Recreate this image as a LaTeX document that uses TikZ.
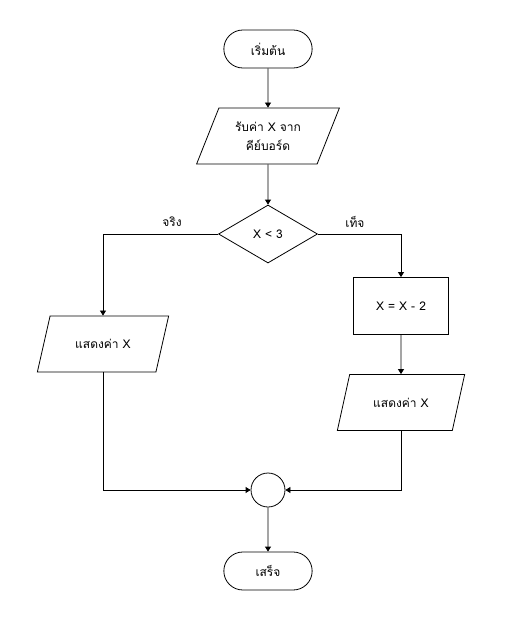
\documentclass[tikz,border=0pt]{standalone}
\usepackage{fontspec}
\setmainfont[Script=Thai]{Loma}
\usetikzlibrary{shapes.geometric, shapes.misc, arrows.meta}

\tikzset{
  terminal/.style={draw, rounded rectangle, minimum width=95pt, minimum height=38pt, line width=0.8pt},
  iobox/.style={draw, trapezium, trapezium left angle=65, trapezium right angle=115,
    trapezium stretches=true, minimum height=56pt, align=center, line width=0.8pt},
  procbox/.style={draw, rectangle, minimum width=95pt, minimum height=57pt, line width=0.8pt},
  decbox/.style={draw, diamond, minimum width=99pt, minimum height=58pt, line width=0.8pt},
  joinbox/.style={draw, circle, minimum size=34pt, line width=0.8pt},
  flow/.style={draw, line width=0.8pt, -{Triangle[length=5pt, width=6pt]}},
}

\begin{document}
\begin{tikzpicture}[x=1pt, y=-1pt, font=\fontsize{12}{19}\selectfont]
    \useasboundingbox (0,0) rectangle (512,635);

    % main column
    \node[terminal] (start) at (268,49) {เริ่มต้น};
    \node[iobox, minimum width=143pt] (input) at (268,136) {รับค่า X จาก\\คีย์บอร์ด};
    \node[decbox] (check) at (268,234) {X < 3};

    % true branch
    \node[iobox, minimum width=132pt] (showL) at (103,344) {แสดงค่า X};
    \node at (172,222) (yes) {จริง};

    % false branch
    \node[procbox] (calc) at (401,306) {X = X - 2};
    \node[iobox, minimum width=128pt] (showR) at (401,402.5) {แสดงค่า X};
    \node at (355,222) (no) {เท็จ};

    % merge and end
    \node[joinbox] (join) at (268,490) {};
    \node[terminal] (stop) at (268,571) {เสร็จ};

    \draw[flow] (start) -- (input);
    \draw[flow] (input) -- (check);
    \draw[flow] (check.west) -| (showL.north);
    \draw[flow] (check.east) -| (calc.north);
    \draw[flow] (calc) -- (showR);
    \draw[flow] (showL.south) |- (join.west);
    \draw[flow] (showR.south) |- (join.east);
    \draw[flow] (join) -- (stop);

\end{tikzpicture}
\end{document}
